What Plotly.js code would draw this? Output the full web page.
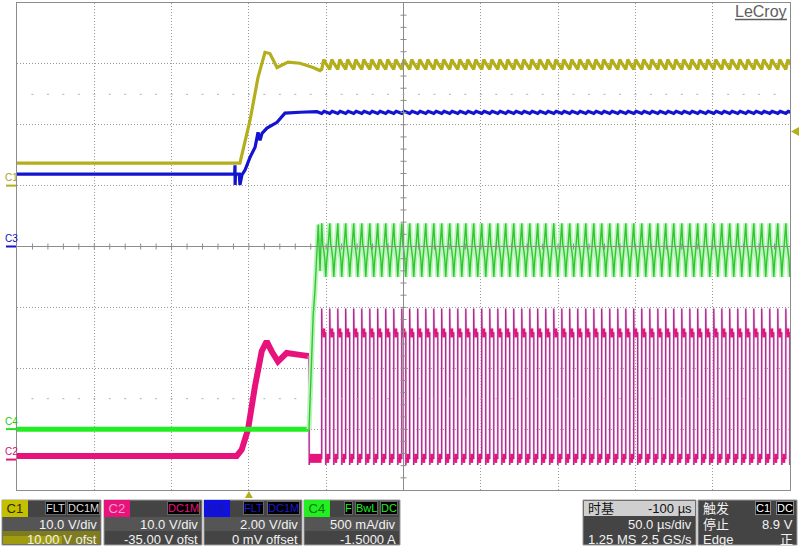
<!DOCTYPE html>
<html><head><meta charset="utf-8">
<script src="https://cdn.plot.ly/plotly-3.0.1.min.js"></script>
<style>html,body{margin:0;padding:0;background:#fff;}#chart{width:800px;height:547px;}</style>
</head><body><div id="chart"></div>
<script>
// ---------- scope settings ----------
const tPerDivUs = 50, delayUs = -100;
const chPerDiv = [10, 10, 2, 0.5];      // C1, C2, C3, C4
const chOffset = [10, -35, 0, -1.5];
const trigLevelV = 8.9;

// ---------- waveform key points ----------
const c1TimeUs = [-150, -5.8, 0.7, 5.9, 10.4, 13.6, 18.2, 25.3, 33.0, 41.5, 46.0];
const c1Volt   = [3.7, 3.7, 10.7, 17.8, 21.9, 21.7, 19.4, 20.3, 20.1, 19.4, 18.9];
const c2TimeUs = [-150, -7.9, -4.7, -0.6, 3.9, 8.3, 11.5, 14.7, 18.8, 24.4, 33.0, 38.2, 38.9];
const c2Volt   = [0.6, 0.6, 1.6, 4.9, 12.0, 17.8, 19.4, 17.8, 16.1, 17.5, 17.2, 17.0, 17.0];
const c3TimeUs = [-150, -9.2, -9.0, -8.9, -8.7, -6.2, -5.8, -4.5, -2.5, 0.7, 4.0, 5.9, 7.2, 8.5, 11.7, 18.2, 23.3, 33.0, 44.0];
const c3Volt   = [2.38, 2.38, 2.67, 2.02, 2.38, 2.38, 2.02, 2.35, 2.51, 2.93, 3.26, 3.75, 3.49, 3.72, 3.89, 4.08, 4.38, 4.41, 4.43];
const c4TimeUs = [-150, 38.9, 40.6, 41.6, 42.7, 44.9, 46.0];
const c4Amp    = [0, 0, 0.59, 0.94, 1.13, 1.68, 1.30];

// switching rising edges (µs)
const switchRiseUs = [47.1, 52.3, 57.5, 62.6, 67.8, 73.0, 78.2, 83.3, 88.5, 93.7, 98.9, 104.0, 109.2, 114.4, 119.6,
  124.7, 129.9, 135.1, 140.3, 145.4, 150.6, 155.8, 161.0, 166.1, 171.3, 176.5, 181.7, 186.8, 192.0, 197.2,
  202.4, 207.5, 212.7, 217.9, 223.1, 228.2, 233.4, 238.6, 243.8, 248.9, 254.1, 259.3, 264.5, 269.6, 274.8,
  280.0, 285.2, 290.3, 295.5, 300.7, 305.9, 311.0, 316.2, 321.4, 326.6, 331.7, 336.9, 342.1, 347.3];
const c2LowV = 0.2, c2HighV = 20.8, c2SpikeV = 24.8, c2UnderV = -0.9, c2HighUs = 2.6;
const c1CyclePhase = [0, 0.25, 0.6];
const c1CycleVolt  = [19.1, 20.7, 19.9];
const c3CyclePhase = [0, 0.3, 0.7];
const c3CycleVolt  = [4.37, 4.44, 4.40];
const c4CyclePhase = [0, 0.12, 0.25, 0.38, 0.5, 0.62, 0.75, 0.88];
const c4CycleAmp   = [1.69, 1.52, 1.47, 1.40, 1.25, 1.38, 1.47, 1.58];

// ---------- helpers ----------
const xRange = [-delayUs - 5 * tPerDivUs, -delayUs + 5 * tPerDivUs];
const chRange = chPerDiv.map((d, i) => [-chOffset[i] - 4 * d, -chOffset[i] + 4 * d]);
const PL = 17, PR = 790, PT = 3, PB = 490;
const X = px => (px - PL) / (PR - PL);
const Y = py => (PB - py) / (PB - PT);
const chPx = (i, v) => PB - (v - chRange[i][0]) / (chRange[i][1] - chRange[i][0]) * (PB - PT);
const tPx = t => PL + (t - xRange[0]) / (xRange[1] - xRange[0]) * (PR - PL);

function nextRise(k) { return k + 1 < switchRiseUs.length ? switchRiseUs[k + 1] : switchRiseUs[k] + (switchRiseUs[k] - switchRiseUs[k - 1]); }
function periodic(preT, preV, phases, vals) {
  const xs = preT.slice(), ys = preV.slice();
  switchRiseUs.forEach((t0, k) => {
    const t1 = nextRise(k);
    phases.forEach((p, j) => { xs.push(t0 + p * (t1 - t0)); ys.push(vals[j]); });
  });
  return {xs, ys};
}

const c1 = periodic(c1TimeUs, c1Volt, c1CyclePhase, c1CycleVolt);
const c3 = periodic(c3TimeUs, c3Volt, c3CyclePhase, c3CycleVolt);
const c4base = {xs: c4TimeUs.slice(0, 2), ys: c4Amp.slice(0, 2)};
const c4sw = periodic(c4TimeUs.slice(1), c4Amp.slice(1), c4CyclePhase, c4CycleAmp);

// C2 switching
const dropT = c2TimeUs[c2TimeUs.length - 1];
const e2x = [dropT, dropT + 0.1, dropT + 0.4], e2y = [c2Volt[c2Volt.length - 1], c2UnderV, c2LowV];
const hbx = [], hby = [], lbx = [dropT + 0.3, switchRiseUs[0] - 0.1, null], lby = [c2LowV, c2LowV, null];
switchRiseUs.forEach((t, k) => {
  const n = nextRise(k);
  e2x.push(t, t, t + 0.25, t + c2HighUs, t + c2HighUs, t + c2HighUs + 0.25);
  e2y.push(c2LowV, c2SpikeV, c2HighV, c2HighV, c2UnderV, c2LowV);
  hbx.push(t + 0.35, t + c2HighUs - 0.3, null); hby.push(c2HighV, c2HighV, null);
  lbx.push(t + c2HighUs + 0.35, n - 0.35, null); lby.push(c2LowV, c2LowV, null);
});

const col = {c1: '#b3ae1c', c2: '#e8127c', c2e: '#a8188a', c3: '#1414d0', c4: '#22ee22', c4s: '#30c830'};
const L = (x, y, ax, color, width) => ({x, y, yaxis: ax, type: 'scatter', mode: 'lines', hoverinfo: 'skip', showlegend: false,
  line: {color, width, simplify: false}});

const traces = [
  {x: [], y: [], type: 'scatter', mode: 'lines', showlegend: false, hoverinfo: 'skip'},
  // C2 on y2
  L(c2TimeUs, c2Volt, 'y2', col.c2, 6),
  L(e2x, e2y, 'y2', '#f5d3e6', 2.6),
  L(e2x, e2y, 'y2', col.c2e, 1.2),
  L(hbx, hby, 'y2', col.c2, 9),
  L(lbx, lby, 'y2', col.c2, 9),
  // C4 on y3
  L(c4base.xs, c4base.ys, 'y3', col.c4, 5),
  L(c4sw.xs, c4sw.ys, 'y3', '#bdf3bd', 5),
  L(c4sw.xs, c4sw.ys, 'y3', col.c4s, 1.4),
  // C1 on y4
  L(c1.xs, c1.ys, 'y4', col.c1, 3.2),
  // C3 on y5
  L(c3.xs, c3.ys, 'y5', col.c3, 3.2)
];

// ---------- decorations ----------
const shapes = [];
const grey = '#8c8c8c';
shapes.push({type: 'line', xref: 'paper', yref: 'paper', x0: 0, x1: 1, y0: 0.5, y1: 0.5, line: {color: grey, width: 1}});
shapes.push({type: 'line', xref: 'paper', yref: 'paper', x0: 0.5, x1: 0.5, y0: 0, y1: 1, line: {color: grey, width: 1}});
for (let i = 1; i < 50; i++) {
  shapes.push({type: 'line', xref: 'paper', yref: 'paper', x0: i / 50, x1: i / 50, y0: 0.5 - 3 / 487, y1: 0.5 + 3 / 487, line: {color: grey, width: 1}});
  [0.1875, 0.8125].forEach(yy => shapes.push({type: 'line', xref: 'paper', yref: 'paper', x0: i / 50 - 1 / 773, x1: i / 50 + 1 / 773, y0: yy, y1: yy, line: {color: '#b0b0b0', width: 1}}));
}
for (let i = 1; i < 40; i++) {
  shapes.push({type: 'line', xref: 'paper', yref: 'paper', y0: i / 40, y1: i / 40, x0: 0.5 - 3 / 773, x1: 0.5 + 3 / 773, line: {color: grey, width: 1}});
}
shapes.push({type: 'line', xref: 'paper', yref: 'paper', x0: X(735), x1: X(787), y0: Y(19.5), y1: Y(19.5), line: {color: '#5e5e5e', width: 1.5}});
const chColors = [col.c1, col.c2, col.c3, '#22dd22'];
const chLabelColors = ['#a8a41a', '#d0107a', '#1414c0', '#22cc22'];
const annotations = [];
const F = 'Liberation Sans, Arial, Noto Sans CJK SC, sans-serif';
['C1', 'C2', 'C3', 'C4'].forEach((n, i) => {
  const gy = chPx(i, 0);
  shapes.push({type: 'line', xref: 'paper', yref: 'paper', x0: X(6), x1: X(16), y0: Y(gy), y1: Y(gy), line: {color: chColors[i], width: 2}});
  annotations.push({xref: 'paper', yref: 'paper', x: X(11), y: Y(gy - 8), text: n, showarrow: false, xanchor: 'center', yanchor: 'middle',
    font: {family: F, size: 10, color: chLabelColors[i]}});
});
const tly = chPx(0, trigLevelV);
shapes.push({type: 'path', xref: 'paper', yref: 'paper', fillcolor: col.c1, line: {width: 0},
  path: `M ${X(791)} ${Y(tly)} L ${X(799)} ${Y(tly - 4.5)} L ${X(799)} ${Y(tly + 4.5)} Z`});
const tpx = tPx(0);
shapes.push({type: 'path', xref: 'paper', yref: 'paper', fillcolor: col.c1, line: {width: 0},
  path: `M ${X(tpx - 4)} ${Y(498)} L ${X(tpx + 4)} ${Y(498)} L ${X(tpx)} ${Y(491)} Z`});

annotations.push({xref: 'paper', yref: 'paper', x: X(761), y: Y(12), text: 'LeCroy', showarrow: false, xanchor: 'center', yanchor: 'middle',
  font: {family: F, size: 16, color: '#5e5e5e'}});

// ---------- bottom info boxes ----------
function rect(x0, x1, y0, y1, fill, lc, lw) {
  shapes.push({type: 'rect', xref: 'paper', yref: 'paper', x0: X(x0), x1: X(x1), y0: Y(y1), y1: Y(y0), fillcolor: fill,
    line: {color: lc || fill, width: lw === undefined ? 0 : lw}});
}
function txt(x, y, s, anchor, color, size, bg, bc) {
  const a = {xref: 'paper', yref: 'paper', x: X(x), y: Y(y), text: s, showarrow: false, xanchor: anchor, yanchor: 'middle',
    font: {family: F, size: size || 13, color}};
  if (bg) { a.bgcolor = bg; a.borderpad = 0; a.bordercolor = bc || '#777'; a.borderwidth = 1; }
  annotations.push(a);
}
const chBoxes = [
  {x0: 2, x1: 101, lab: 'C1', labBg: '#c4c000', labFg: '#2a2a00', tags: [['FLT', 55], ['DC1M', 83]], tagFg: '#dddddd', vdiv: '10.0 V/div', ofs: '10.00 V ofst'},
  {x0: 104, x1: 202, lab: 'C2', labBg: '#e8127c', labFg: '#f8a0c8', tags: [['DC1M', 183]], tagFg: '#e8127c', vdiv: '10.0 V/div', ofs: '-35.00 V ofst'},
  {x0: 204, x1: 302, lab: 'C3', labBg: '#1010e0', labFg: '#1a1aa0', tags: [['FLT', 253], ['DC1M', 283]], tagFg: '#1a1ad0', vdiv: '2.00 V/div', ofs: '0 mV offset'},
  {x0: 304, x1: 400, lab: 'C4', labBg: '#22ee22', labFg: '#0a7a0a', tags: [['F', 348], ['BwL', 366], ['DC', 389]], tagFg: '#22ee22', vdiv: '500 mA/div', ofs: '-1.5000 A'}
];
chBoxes.forEach((b, i) => {
  rect(b.x0, b.x1, 500, 545, '#444444', '#9a9a9a', 1);
  rect(b.x0 + 1, b.x1 - 1, 517, 531, '#555555');
  if (i === 0) { rect(b.x0 + 1, b.x1 - 1, 531, 544, 'rgba(175,172,0,0.55)'); rect(b.x0 + 1, b.x0 + 60, 536, 544, 'rgba(200,196,0,0.45)'); }
  txt(b.x0 + 3 + 10, 508, ' ' + b.lab + ' ', 'center', b.labFg, 13, b.labBg, b.labBg);
  b.tags.forEach(t => txt(t[1], 508, t[0], 'center', b.tagFg, 11, '#000000', '#666666'));
  txt(b.x1 - 2, 524, b.vdiv, 'right', '#f2f2f2', 13);
  txt(b.x1 - 2, 539, b.ofs, 'right', '#f2f2f2', 13);
});
rect(583, 696, 500, 545, '#444444', '#9a9a9a', 1);
rect(584, 695, 501, 516, '#cfcfcf');
txt(586, 508, '时基', 'left', '#111111', 13);
txt(694, 508, '-100 µs', 'right', '#111111', 13);
txt(694, 524, '50.0 µs/div', 'right', '#f2f2f2', 13);
txt(586, 539, '1.25 MS', 'left', '#f2f2f2', 13);
txt(694, 539, '2.5 GS/s', 'right', '#f2f2f2', 13);
rect(698, 797, 500, 545, '#444444', '#9a9a9a', 1);
txt(701, 508, '触发', 'left', '#f2f2f2', 13);
txt(763, 508, 'C1', 'center', '#ffffff', 11, '#000000', '#888888');
txt(785, 508, 'DC', 'center', '#ffffff', 11, '#000000', '#888888');
txt(701, 524, '停止', 'left', '#f2f2f2', 13);
txt(795, 524, '8.9 V', 'right', '#f2f2f2', 13);
txt(701, 539, 'Edge', 'left', '#f2f2f2', 13);
txt(795, 539, '正', 'right', '#f2f2f2', 13);

// ---------- layout ----------
const hidden = r => ({range: r, overlaying: 'y', visible: false, fixedrange: true});
const layout = {
  width: 800, height: 547,
  margin: {l: PL, r: 800 - PR, t: PT, b: 547 - PB, pad: 0},
  paper_bgcolor: '#ffffff', plot_bgcolor: '#ffffff',
  showlegend: false,
  xaxis: {range: xRange, tick0: 0, dtick: tPerDivUs, showticklabels: false, ticks: '', showgrid: true, gridcolor: '#9a9a9a',
    griddash: '1px,2px', gridwidth: 1, zeroline: false, showline: true, mirror: true, linecolor: '#8c8c8c', linewidth: 1, fixedrange: true},
  yaxis: {range: [-4, 4], dtick: 1, tick0: 0, showticklabels: false, ticks: '', showgrid: true, gridcolor: '#9a9a9a',
    griddash: '1px,2px', gridwidth: 1, zeroline: false, showline: true, mirror: true, linecolor: '#8c8c8c', linewidth: 1, fixedrange: true},
  yaxis2: hidden(chRange[1]),
  yaxis3: hidden(chRange[3]),
  yaxis4: hidden(chRange[0]),
  yaxis5: hidden(chRange[2]),
  shapes, annotations
};
Plotly.newPlot('chart', traces, layout, {staticPlot: true, displayModeBar: false});
</script></body></html>
